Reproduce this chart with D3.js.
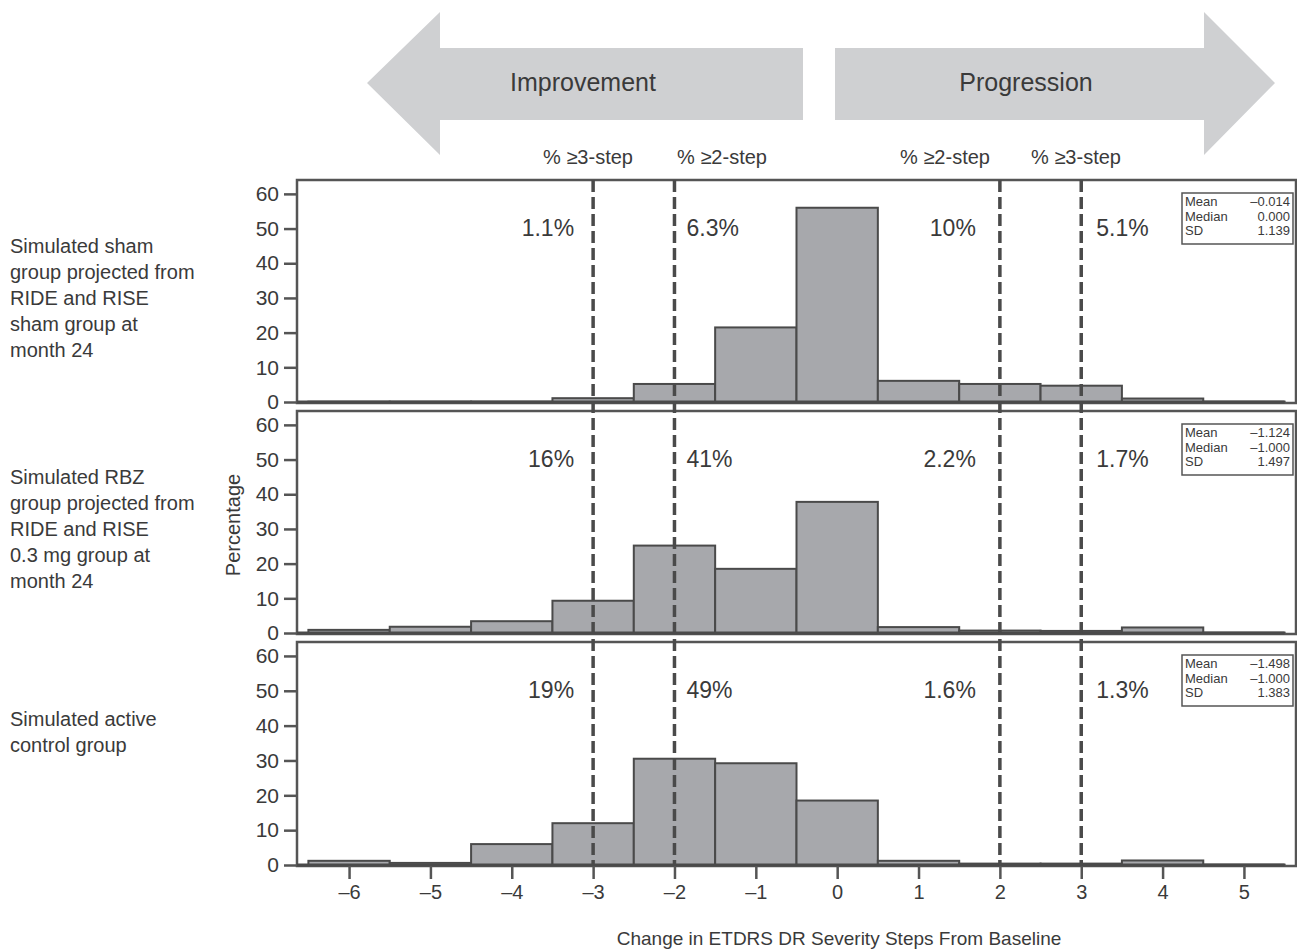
<!DOCTYPE html>
<html><head><meta charset="utf-8">
<script src="https://cdn.jsdelivr.net/npm/d3@7"></script>
<style>body{margin:0;background:#fff}svg{display:block;font-family:"Liberation Sans",Arial,sans-serif}</style>
</head><body><svg id="c" width="1297" height="952"></svg>
<script>
const steps = [-6,-5,-4,-3,-2,-1,0,1,2,3,4,5];
const shamValues   = [0.1,0.1,0.1,1.1,5.2,21.5,56,6.1,5.2,4.7,1.0,0.1];
const rbzValues    = [0.9,1.8,3.4,9.3,25.2,18.5,37.8,1.7,0.7,0.6,1.6,0.1];
const activeValues = [1.2,0.6,6.0,12.0,30.5,29.2,18.5,1.2,0.4,0.4,1.3,0.1];
const panelNames = [
  ["Simulated sham","group projected from","RIDE and RISE","sham group at","month 24"],
  ["Simulated RBZ","group projected from","RIDE and RISE","0.3 mg group at","month 24"],
  ["Simulated active","control group"]
];
const pctLabels = [["1.1%","6.3%","10%","5.1%"],["16%","41%","2.2%","1.7%"],["19%","49%","1.6%","1.3%"]];
const statNames = ["Mean","Median","SD"];
const statValues = [["–0.014","0.000","1.139"],["–1.124","–1.000","1.497"],["–1.498","–1.000","1.383"]];
const cutoffs = [-3,-2,2,3];
const cutoffHeaders = ["% ≥3-step","% ≥2-step","% ≥2-step","% ≥3-step"];
const yTicks = [0,10,20,30,40,50,60];
const xTicks = [-6,-5,-4,-3,-2,-1,0,1,2,3,4,5];
const series = [shamValues, rbzValues, activeValues];

const svg = d3.select("#c");
const L = 297, R = 1296;
const x = d3.scaleLinear().domain([-6.64, 5.64]).range([L, R]);
const panels = [{top:180,bot:402},{top:411,bot:633},{top:642,bot:865}];
const dark = "#4a4a4a", txt = "#3a3a3a";

const ag = svg.append("g").attr("fill","#cfd0d2");
ag.append("path").attr("d","M367,83 L440,12 L440,48 L803,48 L803,120 L440,120 L440,155 Z");
ag.append("path").attr("d","M1275,83 L1204,12 L1204,48 L835,48 L835,120 L1204,120 L1204,155 Z");
svg.append("text").attr("x",583).attr("y",91).attr("text-anchor","middle").attr("font-size",25).attr("fill",txt).text("Improvement");
svg.append("text").attr("x",1026).attr("y",91).attr("text-anchor","middle").attr("font-size",25).attr("fill",txt).text("Progression");
const hdrX = [588,722,945,1076];
cutoffHeaders.forEach((h,i)=>svg.append("text").attr("x",hdrX[i]).attr("y",164).attr("text-anchor","middle").attr("font-size",20).attr("fill",txt).text(h));

panels.forEach((p,pi)=>{
  const y = d3.scaleLinear().domain([0,64]).range([p.bot,p.top]);
  const g = svg.append("g");
  g.selectAll("rect.bar").data(steps.map((s,i)=>({s,v:series[pi][i]}))).join("rect")
    .attr("x",d=>x(d.s-0.5)).attr("width",d=>x(d.s+0.5)-x(d.s-0.5))
    .attr("y",d=>y(d.v)).attr("height",d=>y(0)-y(d.v))
    .attr("fill","#a7a8ac").attr("stroke",dark).attr("stroke-width",2);
  g.append("rect").attr("x",L).attr("y",p.top).attr("width",R-L).attr("height",p.bot-p.top+1)
    .attr("fill","none").attr("stroke","#555").attr("stroke-width",2.5);
  g.append("line").attr("x1",L).attr("x2",x(5.5)).attr("y1",y(0)).attr("y2",y(0)).attr("stroke",dark).attr("stroke-width",3);
  const ya = g.append("g").attr("transform",`translate(${L},0)`)
    .call(d3.axisLeft(y).tickValues(yTicks).tickSize(13).tickPadding(5).tickFormat(d3.format("d")));
  ya.select(".domain").remove();
  ya.selectAll("line").attr("stroke","#555").attr("stroke-width",2.5);
  ya.selectAll("text").attr("font-size",21).attr("fill",txt).attr("font-family","Liberation Sans, Arial");
  const ly = y(50) + 7;
  const lx = [x(-3)-19, x(-2)+12, x(2)-24, x(3)+15];
  const anchors = ["end","start","end","start"];
  pctLabels[pi].forEach((t,i)=>g.append("text").attr("x",lx[i]).attr("y",ly).attr("text-anchor",anchors[i])
    .attr("font-size",23).attr("fill",txt).text(t));
  const bx = 1182, by = p.top+13;
  g.append("rect").attr("x",bx).attr("y",by).attr("width",111).attr("height",51).attr("fill","#fff").attr("stroke","#555").attr("stroke-width",1.5);
  statNames.forEach((n,i)=>{
    g.append("text").attr("x",bx+3).attr("y",by+13+i*14.5).attr("font-size",13).attr("fill",txt).text(n);
    g.append("text").attr("x",bx+108).attr("y",by+13+i*14.5).attr("text-anchor","end").attr("font-size",13).attr("fill",txt).text(statValues[pi][i]);
  });
  const cy = pi===2 ? p.top+84 : p.top+73;
  panelNames[pi].forEach((t,i)=>g.append("text").attr("x",10).attr("y",cy+i*26).attr("font-size",20).attr("fill",txt).text(t));
});

cutoffs.forEach(c=>svg.append("line").attr("x1",x(c)).attr("x2",x(c)).attr("y1",180).attr("y2",866)
  .attr("stroke",dark).attr("stroke-width",3.5).attr("stroke-dasharray","12,5"));

const xa = svg.append("g").attr("transform","translate(0,866)")
  .call(d3.axisBottom(x).tickValues(xTicks).tickSize(13).tickPadding(6).tickFormat(d=>d<0?"–"+Math.abs(d):String(d)));
xa.select(".domain").remove();
xa.selectAll("line").attr("stroke","#555").attr("stroke-width",2.5);
xa.selectAll("text").attr("font-size",20).attr("fill",txt).attr("font-family","Liberation Sans, Arial");
svg.append("text").attr("x",839).attr("y",945).attr("text-anchor","middle").attr("font-size",19).attr("fill",txt).text("Change in ETDRS DR Severity Steps From Baseline");
svg.append("text").attr("transform","translate(240,525) rotate(-90)").attr("text-anchor","middle").attr("font-size",20).attr("fill",txt).text("Percentage");
</script></body></html>
